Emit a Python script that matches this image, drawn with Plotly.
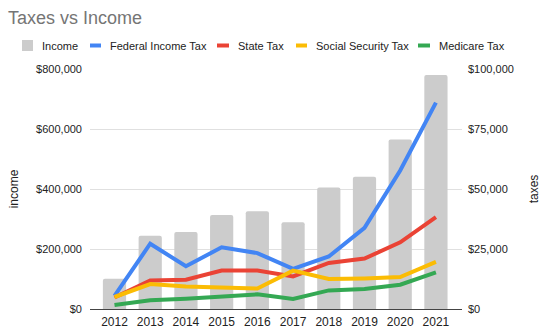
import plotly.graph_objects as go

years = ["2012", "2013", "2014", "2015", "2016", "2017", "2018", "2019", "2020", "2021"]
income = [101000, 244000, 257000, 313000, 326000, 289000, 405000, 441000, 565000, 780000]
federal_tax = [5500, 27200, 17800, 25700, 23300, 16700, 21900, 33800, 57700, 86000]
state_tax = [4800, 11900, 12200, 16000, 16000, 13600, 19200, 21000, 27800, 38300]
social_security_tax = [5000, 10400, 9400, 8750, 8500, 16000, 12500, 12750, 13300, 19600]
medicare_tax = [1700, 3600, 4300, 5250, 6100, 4200, 7750, 8300, 10100, 15250]

series_names = ["Income", "Federal Income Tax", "State Tax", "Social Security Tax", "Medicare Tax"]
colors = ["#cccccc", "#4285F4", "#EA4335", "#FBBC04", "#34A853"]
left_ticks = [0, 200000, 400000, 600000, 800000]
left_labels = ["$0", "$200,000", "$400,000", "$600,000", "$800,000"]
right_ticks = [0, 25000, 50000, 75000, 100000]
right_labels = ["$0", "$25,000", "$50,000", "$75,000", "$100,000"]

W, H = 550, 334
L, R, T, B = 90, 88, 69, 25
PW, PH = W - L - R, H - T - B

FONT = "Liberation Sans, Arial, sans-serif"

fig = go.Figure()
fig.add_trace(go.Bar(x=years, y=income, name=series_names[0], marker_color=colors[0],
                     marker_line_width=0, marker_cornerradius=2, showlegend=False, yaxis="y"))
for name, vals, col in zip(series_names[1:],
                           [federal_tax, state_tax, social_security_tax, medicare_tax],
                           colors[1:]):
    fig.add_trace(go.Scatter(x=years, y=vals, name=name, mode="lines",
                             line=dict(color=col, width=4), showlegend=False, yaxis="y2"))

def px2paper_x(px):
    return (px - L) / PW

def px2paper_y(py):
    return (H - B - py) / PH

# legend (manual, to match the compact Google-style layout)
leg_y = 45.5
icon_x = [(22, 33), (90, 101), (217, 229), (296, 307), (418, 430)]
text_x = [40, 108, 236, 314, 437]
shapes = []
annotations = []
for i, name in enumerate(series_names):
    x0, x1 = icon_x[i]
    if i == 0:
        shapes.append(dict(type="rect", xref="paper", yref="paper",
                           x0=px2paper_x(x0), x1=px2paper_x(x1),
                           y0=px2paper_y(leg_y + 5.5), y1=px2paper_y(leg_y - 5.5),
                           fillcolor=colors[i], line_width=0))
    else:
        shapes.append(dict(type="line", xref="paper", yref="paper",
                           x0=px2paper_x(x0), x1=px2paper_x(x1),
                           y0=px2paper_y(leg_y), y1=px2paper_y(leg_y),
                           line=dict(color=colors[i], width=4)))
    annotations.append(dict(text=name, xref="paper", yref="paper",
                            x=px2paper_x(text_x[i]), y=px2paper_y(leg_y),
                            xanchor="left", yanchor="middle", showarrow=False,
                            font=dict(size=11, color="#222222", family=FONT)))

fig.update_layout(
    width=W, height=H,
    margin=dict(l=L, r=R, t=T, b=B, pad=0, autoexpand=False),
    paper_bgcolor="white", plot_bgcolor="white",
    font=dict(family=FONT, color="#222222", size=12),
    title=dict(text="Taxes vs Income", x=8 / W, xanchor="left", xref="container",
               y=1 - 17.5 / H, yanchor="middle", yref="container",
               font=dict(size=18, color="#757575", family=FONT)),
    bargap=0.35,
    showlegend=False,
    shapes=shapes,
    annotations=annotations,
    xaxis=dict(type="category", range=[-0.686, 9.73], showgrid=False, zeroline=False,
               showline=False, ticks="", ticklabelstandoff=4, automargin=False,
               tickfont=dict(size=12, color="#222222")),
    yaxis=dict(range=[0, 800000], tickvals=left_ticks, ticktext=left_labels,
               showgrid=True, gridcolor="#e0e0e0", gridwidth=1, automargin=False,
               zeroline=True, zerolinecolor="#444444", zerolinewidth=1,
               ticks="", ticklabelstandoff=7, tickfont=dict(size=11, color="#222222"),
               title=dict(text="income", standoff=14, font=dict(size=12, color="#222222"))),
    yaxis2=dict(range=[0, 100000], tickvals=right_ticks, ticktext=right_labels,
                overlaying="y", side="right", showgrid=False, zeroline=False, automargin=False,
                ticks="", ticklabelstandoff=5, tickfont=dict(size=11, color="#222222"),
                title=dict(text="taxes", standoff=16, font=dict(size=12, color="#222222"))),
)

fig.write_html("out.html")
